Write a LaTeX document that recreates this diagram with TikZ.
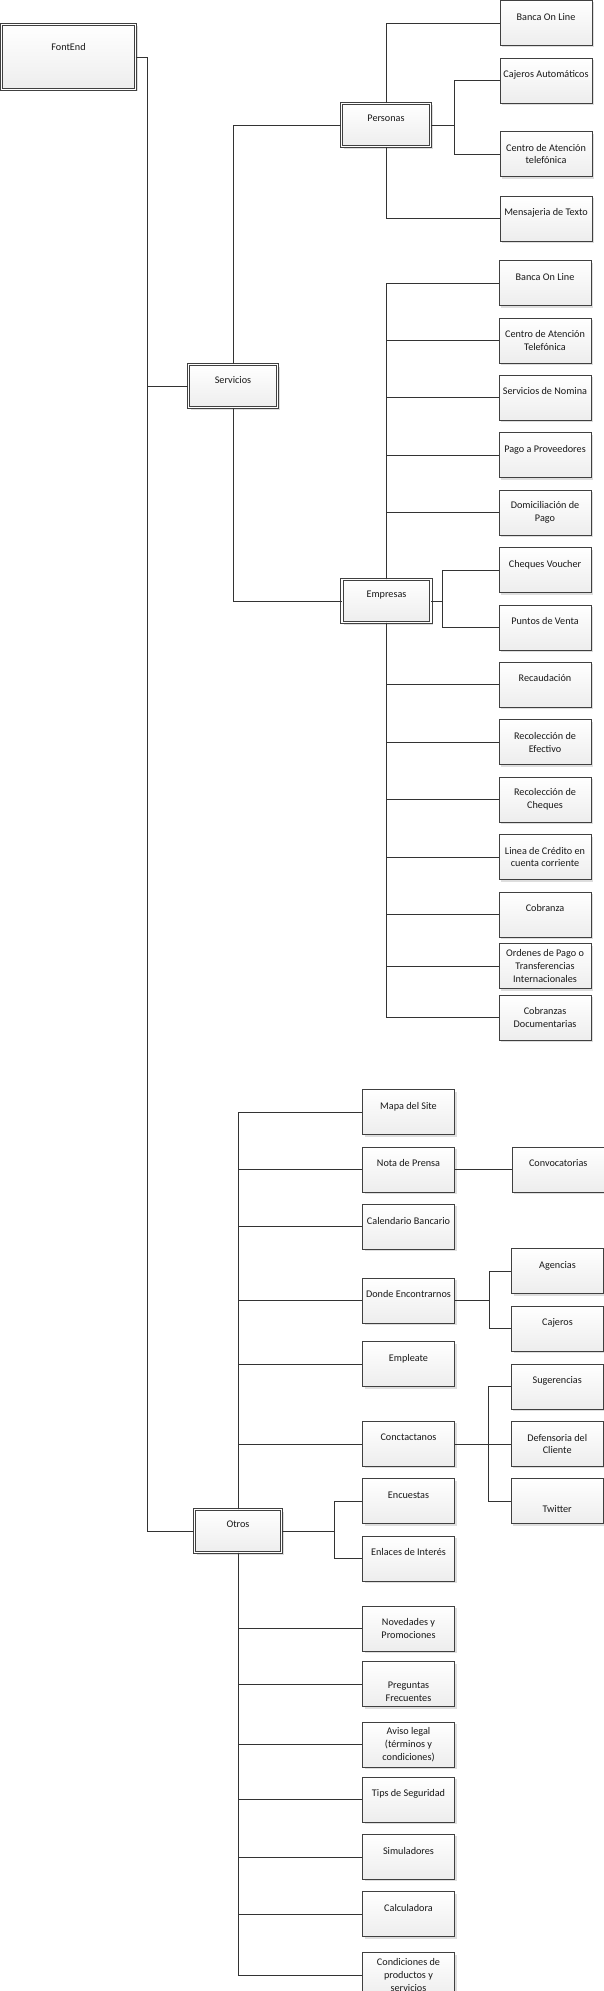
\documentclass[tikz,border=0pt]{standalone}
\usepackage{fontspec}
\setmainfont{Carlito}
\usepackage{tikz}
\usetikzlibrary{positioning,shadows}
\tikzset{
  node distance=11.7pt,
  box/.style={draw=black!75, line width=0.7pt, top color=white, bottom color=black!7,
    drop shadow={shadow xshift=2pt, shadow yshift=-2pt, fill=black!13, opacity=1},
    minimum width=92pt, minimum height=45pt, inner sep=1pt, align=center,
    text=black!90, font=\fontsize{10.2}{12.7}\selectfont},
  mainbox/.style={box, double, double distance=1.8pt, minimum width=89pt, minimum height=43pt}
}

\begin{document}
\begin{tikzpicture}[x=1pt,y=-1pt]
          \useasboundingbox (0,0) rectangle (604,1991);
          \begin{scope}
              \node[mainbox, minimum width=134pt, minimum height=65pt] (fontend) at (68.5,57) {FontEnd\\[8pt]~};
              \node[mainbox] (servicios) at (233,386) {Servicios\\~};
              \node[mainbox] (personas)  at (386,125) {Personas\\~};
              \node[mainbox] (empresas)  at (386.5,601) {Empresas\\~};
              \node[mainbox, minimum width=87pt] (otros) at (238,1531) {Otros\\~};

              % personas
              \node[box] (banca1)   at (546,23) {Banca On Line\\~};
              \node[box] (cajeros1) [below=of banca1] {Cajeros Automáticos\\~};
              \node[box] (centro1)  [below=28pt of cajeros1] {Centro de Atención\\telefónica};
              \node[box] (mensajes) [below=19pt of centro1] {Mensajeria de Texto\\~};

              % empresas
              \node[box] (banca2)        at (545,283) {Banca On Line\\~};
              \node[box] (centro2)       [below=of banca2] {Centro de Atención\\Telefónica};
              \node[box] (nomina)        [below=of centro2] {Servicios de Nomina\\~};
              \node[box] (proveedores)   [below=of nomina] {Pago a Proveedores\\~};
              \node[box] (domiciliacion) [below=of proveedores] {Domiciliación de\\Pago};
              \node[box] (voucher)       [below=of domiciliacion] {Cheques Voucher\\~};
              \node[box] (puntos)        [below=of voucher] {Puntos de Venta\\~};
              \node[box] (recaudacion)   [below=of puntos] {Recaudación\\~};
              \node[box] (efectivo)      [below=of recaudacion] {Recolección de\\Efectivo};
              \node[box] (cheques)       [below=of efectivo] {Recolección de\\Cheques};
              \node[box] (credito)       [below=of cheques] {Linea de Crédito en\\cuenta corriente};
              \node[box] (cobranza)      [below=of credito] {Cobranza\\~};
              \node[box] (ordenes)       [below=6pt of cobranza] {Ordenes de Pago o\\Transferencias\\Internacionales};
              \node[box] (documentarias) [below=6pt of ordenes] {Cobranzas\\Documentarias};

              % otros
              \node[box] (mapa)         at (408.5,1112) {Mapa del Site\\~};
              \node[box] (nota)         [below=of mapa] {Nota de Prensa\\~};
              \node[box] (calendario)   [below=of nota] {Calendario Bancario\\~};
              \node[box] (donde)        [below=28pt of calendario] {Donde Encontrarnos\\~};
              \node[box] (empleate)     [below=18pt of donde] {Empleate\\~};
              \node[box] (conctactanos) [below=34pt of empleate] {Conctactanos\\~};
              \node[box] (encuestas)    [below=of conctactanos] {Encuestas\\~};
              \node[box] (enlaces)      [below=of encuestas] {Enlaces de Interés\\~};
              \node[box] (novedades)    [below=24pt of enlaces] {Novedades y\\Promociones};
              \node[box] (preguntas)    [below=10pt of novedades] {\strut\\Preguntas\\Frecuentes};
              \node[box] (aviso)        [below=15pt of preguntas] {Aviso legal\\(términos y\\condiciones)};
              \node[box] (tips)         [below=9pt of aviso] {Tips de Seguridad\\~};
              \node[box] (simuladores)  [below=of tips] {Simuladores\\~};
              \node[box] (calculadora)  [below=of simuladores] {Calculadora\\~};
              \node[box] (condiciones)  [below=15pt of calculadora] {Condiciones de\\productos y\\servicios};

              \node[box] (convocatorias) [right=57pt of nota] {Convocatorias\\~};
              \node[box] (agencias)      at (557.5,1271) {Agencias\\~};
              \node[box] (cajeros2)      [below=of agencias] {Cajeros\\~};
              \node[box] (defensoria)    [right=56pt of conctactanos] {Defensoria del\\Cliente};
              \node[box] (sugerencias)   [above=of defensoria] {Sugerencias\\~};
              \node[box] (twitter)       [below=of defensoria] {\strut\\Twitter};
          \end{scope}

          \begin{scope}[black!80, line width=0.7pt]
              \draw (fontend.east) -- ++(11.5,0) |- (servicios.west);
              \draw (fontend.east) -- ++(11.5,0) |- (otros.west);

              \draw (servicios.north) |- (personas.west);
              \draw (servicios.south) |- (empresas.west);

              \draw (personas.north) |- (banca1.west);
              \draw (personas.east) -- ++(23.5,0) |- (cajeros1.west);
              \draw (personas.east) -- ++(23.5,0) |- (centro1.west);
              \draw (personas.south) |- (mensajes.west);

              \draw (empresas.north) |- (banca2.west);
              \draw (empresas.north) |- (centro2.west);
              \draw (empresas.north) |- (nomina.west);
              \draw (empresas.north) |- (proveedores.west);
              \draw (empresas.north) |- (domiciliacion.west);
              \draw (empresas.east) -- ++(11,0) |- (voucher.west);
              \draw (empresas.east) -- ++(11,0) |- (puntos.west);
              \draw (empresas.south) |- (recaudacion.west);
              \draw (empresas.south) |- (efectivo.west);
              \draw (empresas.south) |- (cheques.west);
              \draw (empresas.south) |- (credito.west);
              \draw (empresas.south) |- (cobranza.west);
              \draw (empresas.south) |- (ordenes.west);
              \draw (empresas.south) |- (documentarias.west);

              \draw (otros.north) |- (mapa.west);
              \draw (otros.north) |- (nota.west);
              \draw (otros.north) |- (calendario.west);
              \draw (otros.north) |- (donde.west);
              \draw (otros.north) |- (empleate.west);
              \draw (otros.north) |- (conctactanos.west);
              \draw (otros.east) -- ++(52.5,0) |- (encuestas.west);
              \draw (otros.east) -- ++(52.5,0) |- (enlaces.west);
              \draw (otros.south) |- (novedades.west);
              \draw (otros.south) |- (preguntas.west);
              \draw (otros.south) |- (aviso.west);
              \draw (otros.south) |- (tips.west);
              \draw (otros.south) |- (simuladores.west);
              \draw (otros.south) |- (calculadora.west);
              \draw (otros.south) |- (condiciones.west);

              \draw (nota.east) -- (convocatorias.west);
              \draw (donde.east) -- ++(34.5,0) |- (agencias.west);
              \draw (donde.east) -- ++(34.5,0) |- (cajeros2.west);
              \draw (conctactanos.east) -- ++(33.5,0) |- (sugerencias.west);
              \draw (conctactanos.east) -- (defensoria.west);
              \draw (conctactanos.east) -- ++(33.5,0) |- (twitter.west);
          \end{scope}
\end{tikzpicture}
\end{document}
